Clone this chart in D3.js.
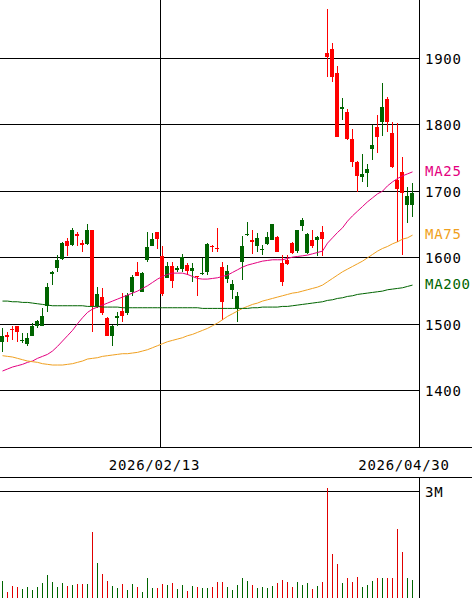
<!DOCTYPE html>
<html><head><meta charset="utf-8">
<script src="https://cdn.jsdelivr.net/npm/d3@7/dist/d3.min.js"></script>
<style>
html,body{margin:0;padding:0;background:#fff;}
svg{display:block;}
text{font-family:"DejaVu Sans Mono",monospace;font-size:14px;letter-spacing:0.7px;fill:#000;}
</style></head><body>
<svg id="c" width="472" height="598"></svg>
<script>
// ---- data ----
const opens  = [1474,1484,1493,1497,1476,1470,1483,1497,1498,1527,1576,1584,1598,1625,1619,1635,1622,1620,1641,1527,1541,1510,1483,1510,1520,1517,1548,1579,1549,1597,1618,1638,1603,1569,1588,1581,1583,1589,1580,1572,1576,1579,1618,1615,1586,1568,1551,1523,1593,1635,1626,1618,1612,1621,1627,1631,1592,1597,1622,1610,1647,1607,1627,1626,1638,1907,1913,1878,1824,1819,1778,1744,1721,1728,1764,1797,1804,1838,1787,1717,1729,1680,1680];
const closes = [1482,1481,1491,1488,1477,1480,1498,1505,1513,1556,1579,1597,1622,1617,1641,1632,1619,1642,1527,1545,1517,1483,1498,1512,1512,1544,1571,1573,1577,1616,1628,1628,1545,1588,1565,1584,1601,1580,1585,1571,1577,1621,1616,1613,1534,1580,1561,1543,1618,1636,1623,1630,1613,1631,1651,1608,1563,1591,1607,1642,1657,1635,1618,1631,1628,1902,1871,1782,1826,1778,1744,1723,1726,1733,1769,1781,1827,1804,1736,1703,1697,1693,1698];
const highs  = [1494,1489,1497,1498,1487,1487,1502,1506,1524,1562,1580,1604,1624,1629,1644,1639,1627,1651,1642,1556,1554,1511,1499,1519,1547,1547,1574,1593,1579,1639,1637,1639,1617,1594,1594,1587,1606,1592,1592,1573,1599,1622,1619,1644,1593,1589,1567,1549,1632,1654,1641,1637,1619,1638,1651,1632,1604,1604,1623,1642,1660,1637,1642,1632,1648,1973,1923,1888,1840,1823,1794,1745,1756,1741,1800,1814,1863,1841,1804,1803,1752,1706,1713];
const lows   = [1459,1474,1477,1474,1472,1467,1482,1494,1497,1519,1559,1579,1597,1602,1617,1617,1609,1619,1489,1524,1514,1482,1468,1497,1504,1514,1542,1572,1549,1593,1617,1613,1543,1569,1554,1579,1579,1574,1564,1543,1574,1574,1609,1609,1507,1562,1538,1504,1567,1633,1606,1608,1604,1619,1626,1608,1558,1589,1606,1607,1640,1605,1614,1602,1602,1871,1864,1781,1807,1777,1736,1699,1714,1707,1747,1758,1783,1789,1735,1623,1604,1652,1662];
// volume in thousands of shares
const volumes = [479,169,338,318,254,310,225,301,414,648,451,310,423,338,366,394,394,394,1868,994,676,487,338,282,394,225,394,318,177,572,290,290,394,366,423,254,366,197,338,310,282,282,310,451,451,310,225,366,563,479,366,282,310,282,338,423,507,451,310,451,366,423,254,338,451,3099,1239,958,423,563,451,592,310,366,479,563,563,563,563,1944,1304,563,507];
const ma25  = [1430,1433,1436,1438,1440,1443,1445,1449,1452,1455,1460,1467,1475,1483,1491,1501,1510,1518,1523,1526,1529,1532,1535,1538,1541,1544,1547,1550,1554,1558,1563,1568,1572,1575,1577,1577,1577,1575,1572,1569,1568,1568,1569,1570,1572,1574,1578,1582,1586,1589,1591,1593,1595,1596,1597,1597,1597,1599,1601,1602,1603,1604,1606,1608,1610,1622,1630,1638,1645,1655,1663,1670,1677,1684,1690,1696,1700,1708,1714,1719,1723,1726,1729];
const ma75  = [1453,1452,1451,1449,1447,1445,1444,1443,1441,1440,1439,1439,1439,1440,1441,1443,1445,1448,1449,1450,1452,1453,1454,1455,1456,1456,1457,1458,1460,1462,1465,1468,1471,1474,1476,1478,1480,1483,1485,1488,1491,1494,1498,1502,1507,1512,1516,1520,1524,1527,1530,1532,1535,1537,1539,1541,1543,1545,1547,1548,1550,1552,1554,1556,1559,1564,1569,1574,1579,1583,1587,1591,1595,1600,1605,1610,1614,1617,1621,1624,1628,1630,1634];
const ma200 = [1535,1535,1534,1534,1533,1533,1532,1531,1530,1529,1528,1528,1528,1528,1528,1528,1528,1527,1527,1527,1526,1526,1526,1526,1525,1525,1525,1525,1525,1525,1525,1525,1525,1525,1525,1525,1525,1525,1525,1525,1524,1524,1524,1524,1524,1524,1524,1524,1524,1524,1525,1525,1526,1526,1526,1526,1527,1527,1528,1529,1530,1531,1532,1533,1534,1536,1537,1539,1540,1542,1543,1545,1546,1547,1548,1549,1550,1552,1553,1554,1555,1557,1559];
const priceTicks = [1400,1500,1600,1700,1800,1900];
const dateTicks = [31,82];
const dateLabels = ["2026/02/13","2026/04/30"];
const volTicks = [3000];
const volTickLabels = ["3M"];
const maNames = ["MA25","MA75","MA200"];
const maColors = ["#e4007f","#f0a020","#006400"];
const upColor = "#006400", downColor = "#ff0000";

// ---- scales ----
const svg = d3.select("#c");
const W = 472, plotR = 419, plotB = 447, bandB = 477, volB = 598;
const n = closes.length;
const x = d3.scaleLinear().domain([0, n-1]).range([2, 2 + 5*(n-1)]);
const y = d3.scaleLinear().domain([1315.9, 1987.1]).range([plotB, 0]);
const yv = d3.scaleLinear().domain([0, 3000]).range([volB, 491.6]);
const crisp = v => Math.floor(v) + 0.5;

const g = svg.append("g");

// price gridlines + labels
priceTicks.forEach(v => {
  const yy = crisp(y(v));
  g.append("line").attr("x1",0).attr("x2",plotR).attr("y1",yy).attr("y2",yy)
    .attr("stroke","#000").attr("stroke-width",1);
  g.append("text").attr("x",425).attr("y",Math.floor(y(v))+5.5).text(v);
});
// vertical gridline at date boundary and right border
const vx = crisp(x(dateTicks[0]) + 3.5);
g.append("line").attr("x1",vx).attr("x2",vx).attr("y1",0).attr("y2",plotB).attr("stroke","#000");
g.append("line").attr("x1",plotR+0.5).attr("x2",plotR+0.5).attr("y1",0).attr("y2",plotB).attr("stroke","#000");
// date band
g.append("line").attr("x1",0).attr("x2",W).attr("y1",plotB+0.5).attr("y2",plotB+0.5).attr("stroke","#000");
g.append("line").attr("x1",0).attr("x2",W).attr("y1",bandB+0.5).attr("y2",bandB+0.5).attr("stroke","#000");
const dateDx = [-2.5, -8];
dateTicks.forEach((t,k) => {
  g.append("text").attr("x", x(t) + dateDx[k]).attr("y", 469.5)
    .attr("text-anchor","middle").text(dateLabels[k]);
});

// volume panel
g.append("line").attr("x1",plotR+0.5).attr("x2",plotR+0.5).attr("y1",bandB).attr("y2",volB).attr("stroke","#000");
volTicks.forEach((v,k) => {
  const yy = crisp(yv(v));
  g.append("line").attr("x1",0).attr("x2",plotR).attr("y1",yy).attr("y2",yy).attr("stroke","#000");
  g.append("text").attr("x",425).attr("y",Math.floor(yv(v))+5.5).text(volTickLabels[k]);
});
g.append("g").attr("shape-rendering","crispEdges").selectAll("rect").data(volumes).join("rect")
  .attr("x",(d,i)=>x(i)).attr("width",1)
  .attr("y",d=>yv(d)).attr("height",d=>volB-yv(d))
  .attr("fill",(d,i)=>closes[i]>=opens[i]?upColor:"#e00000");

// candles
const cg = g.append("g").attr("shape-rendering","crispEdges");
d3.range(n).forEach(i => {
  const up = closes[i] >= opens[i];
  const col = up ? upColor : downColor;
  const yh = y(highs[i]), yl = y(lows[i]);
  cg.append("rect").attr("x", x(i)).attr("width",1).attr("y", Math.round(yh))
    .attr("height", Math.max(1, Math.round(yl)-Math.round(yh))).attr("fill", col);
  const top = Math.round(y(Math.max(opens[i],closes[i])));
  const bot = Math.round(y(Math.min(opens[i],closes[i])));
  cg.append("rect").attr("x", x(i)-2).attr("width",4).attr("y", top)
    .attr("height", Math.max(1, bot-top)).attr("fill", col);
});

// moving averages
svg.append("clipPath").attr("id","pc").append("rect").attr("x",0).attr("y",0).attr("width",plotR).attr("height",plotB);
const line = d3.line().x((d,i)=>x(i)+0.5).y(d=>y(d));
[ma25, ma75, ma200].forEach((s,k) => {
  g.append("path").attr("d", line(s)).attr("fill","none")
    .attr("stroke", maColors[k]).attr("stroke-width",1).attr("clip-path","url(#pc)");
  g.append("text").attr("x",425).attr("y", y(s[s.length-1]) + 4).attr("fill", maColors[k])
    .style("fill", maColors[k]).text(maNames[k]);
});
</script>
</body></html>
